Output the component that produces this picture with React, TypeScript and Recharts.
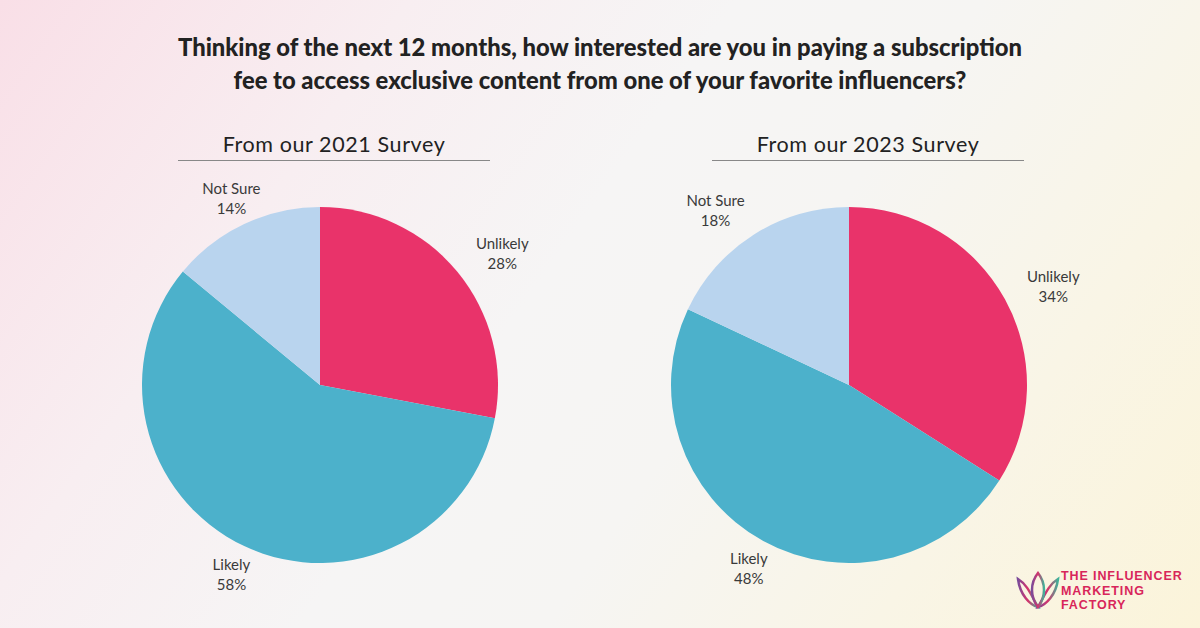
import React from "react";
import { PieChart, Pie, Cell } from "recharts";

const categories = ["Unlikely", "Likely", "Not Sure"];
const values2021 = [28, 58, 14];
const values2023 = [34, 48, 18];
const colors = ["#E9336A", "#4CB1CB", "#B9D4EE"];
const titleLines = [
  "Thinking of the next 12 months, how interested are you in paying a subscription",
  "fee to access exclusive content from one of your favorite influencers?",
];
const subtitles = ["From our 2021 Survey", "From our 2023 Survey"];
const logoLines = ["THE INFLUENCER", "MARKETING", "FACTORY"];

const data2021 = categories.map((name, i) => ({ name, value: values2021[i] }));
const data2023 = categories.map((name, i) => ({ name, value: values2023[i] }));

const RAD = Math.PI / 180;

const renderLabel = (props: any) => {
  const { cx, cy, midAngle, outerRadius, name, value } = props;
  const r = outerRadius + 30;
  const c = Math.cos(-midAngle * RAD);
  const s = Math.sin(-midAngle * RAD);
  let x = cx + r * c;
  const y = cy + r * s;
  if (Math.abs(c) > 0.5) x += Math.sign(c) * 22;
  return (
    <text
      x={x}
      y={y}
      textAnchor="middle"
      fill="#3a3a3a"
      fontFamily="Lato, 'Open Sans', sans-serif"
      fontSize={15}
    >
      <tspan x={x} dy={-3}>{name}</tspan>
      <tspan x={x} dy={20}>{value}%</tspan>
    </text>
  );
};

export default function App() {
  return (
    <div
      style={{
        position: "fixed",
        left: 0,
        top: 0,
        width: 1200,
        height: 628,
        overflow: "hidden",
        background:
          "linear-gradient(125deg, #F9DFE7 0%, #F8EEF1 25%, #F6F5F5 45%, #F6F5F3 60%, #F9F5E6 80%, #FBF4DA 100%)",
      }}
    >
      <div
        style={{
          position: "absolute",
          left: 0,
          top: 31,
          width: 1200,
          textAlign: "center",
          fontFamily: "Lato, sans-serif",
          fontWeight: 900,
          fontSize: 23.8,
          lineHeight: "33px",
          color: "#222",
        }}
      >
        {titleLines.map((t) => (
          <div key={t}>{t}</div>
        ))}
      </div>
      {subtitles.map((t, i) => (
        <div
          key={t}
          style={{
            position: "absolute",
            left: i === 0 ? 178 : 712,
            top: 131,
            width: 312,
            textAlign: "center",
            fontFamily: "Lato, sans-serif",
            fontSize: 21.5,
            color: "#222",
            letterSpacing: 0.6,
            borderBottom: "1px solid #888",
            paddingBottom: 3,
          }}
        >
          {t}
        </div>
      ))}
      <div style={{ position: "absolute", left: 0, top: 0 }}>
        <PieChart width={1200} height={628} margin={{ top: 0, right: 0, bottom: 0, left: 0 }}>
          <Pie
            data={data2021}
            dataKey="value"
            nameKey="name"
            cx={320}
            cy={385}
            outerRadius={178}
            startAngle={90}
            endAngle={-270}
            stroke="none"
            label={renderLabel}
            labelLine={false}
            isAnimationActive={false}
          >
            {data2021.map((d, i) => (
              <Cell key={d.name} fill={colors[i]} />
            ))}
          </Pie>
          <Pie
            data={data2023}
            dataKey="value"
            nameKey="name"
            cx={849}
            cy={385}
            outerRadius={178}
            startAngle={90}
            endAngle={-270}
            stroke="none"
            label={renderLabel}
            labelLine={false}
            isAnimationActive={false}
          >
            {data2023.map((d, i) => (
              <Cell key={d.name} fill={colors[i]} />
            ))}
          </Pie>
        </PieChart>
      </div>
      <svg
        width={44}
        height={40}
        style={{ position: "absolute", left: 1016, top: 571 }}
      >
        <defs>
          <linearGradient id="lg" x1="0" y1="0" x2="1" y2="0">
            <stop offset="0%" stopColor="#7A4B9A" />
            <stop offset="50%" stopColor="#D6336B" />
            <stop offset="100%" stopColor="#3FB39A" />
          </linearGradient>
        </defs>
        <path d="M2 8 C4 24 14 34 22 36 C16 26 12 14 2 8 Z" fill="none" stroke="url(#lg)" strokeWidth={2.5} />
        <path d="M42 8 C40 24 30 34 22 36 C28 26 32 14 42 8 Z" fill="none" stroke="url(#lg)" strokeWidth={2.5} />
        <path d="M22 2 C14 12 14 26 22 36 C30 26 30 12 22 2 Z" fill="none" stroke="url(#lg)" strokeWidth={2.5} />
      </svg>
      <div
        style={{
          position: "absolute",
          left: 1061,
          top: 569,
          fontFamily: "'Liberation Sans', Arial, sans-serif",
          fontWeight: 700,
          fontSize: 12.5,
          lineHeight: "14.5px",
          color: "#D8265A",
          letterSpacing: 0.9,
        }}
      >
        {logoLines.map((t) => (
          <div key={t}>{t}</div>
        ))}
      </div>
    </div>
  );
}
